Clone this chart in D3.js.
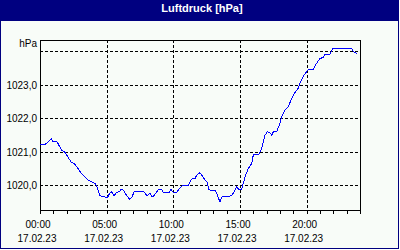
<!DOCTYPE html>
<html>
<head>
<meta charset="utf-8">
<script src="https://cdn.jsdelivr.net/npm/d3@7"></script>
<style>
  body { margin: 0; background: #fff; }
  svg { display: block; font-family: "Liberation Sans", Arial, sans-serif; }
</style>
</head>
<body>
<svg id="chart" width="400" height="250"></svg>
<script>
const hours = [0.0, 0.35, 0.6, 0.85, 0.98, 1.28, 1.6, 1.85, 2.15, 2.35, 2.6, 2.85, 3.1, 3.35, 3.6, 3.85,
  4.1, 4.3, 4.48, 4.85, 5.03, 5.23, 5.35, 5.55, 5.72, 5.98, 6.1, 6.3, 6.47, 6.73, 6.92, 7.05, 7.8, 7.97,
  8.08, 8.25, 8.38, 8.5, 8.75, 8.87, 9.13, 9.25, 9.68, 9.83, 10.0, 10.25, 10.43, 10.63, 10.75, 11.12,
  11.25, 11.38, 11.63, 11.75, 12.0, 12.13, 12.38, 12.58, 12.63, 13.13, 13.25, 13.38, 13.5, 13.67, 14.38,
  14.63, 14.75, 14.88, 15.13, 15.25, 15.38, 15.63, 15.88, 16.0, 16.38, 16.63, 16.88, 17.05, 17.25, 17.38,
  17.5, 17.75, 18.0, 18.13, 18.38, 18.63, 18.88, 19.13, 19.38, 19.5, 19.75, 20.0, 20.13, 20.5, 20.75,
  21.0, 21.25, 21.38, 21.75, 21.95, 23.38, 23.5, 23.75];
const pressure = [1021.21, 1021.21, 1021.29, 1021.40, 1021.30, 1021.30, 1021.06, 1021.00, 1020.81, 1020.69,
  1020.64, 1020.51, 1020.36, 1020.26, 1020.16, 1020.11, 1020.07, 1019.95, 1019.69, 1019.67, 1019.62,
  1019.77, 1019.82, 1019.69, 1019.79, 1019.82, 1019.89, 1019.84, 1019.72, 1019.59, 1019.67, 1019.81,
  1019.81, 1019.72, 1019.70, 1019.77, 1019.68, 1019.68, 1019.80, 1019.88, 1019.88, 1019.79, 1019.79,
  1019.88, 1019.79, 1019.79, 1019.89, 1019.98, 1020.01, 1020.01, 1020.11, 1020.19, 1020.21, 1020.31,
  1020.38, 1020.31, 1020.16, 1020.07, 1019.87, 1019.85, 1019.77, 1019.62, 1019.52, 1019.67, 1019.69,
  1019.87, 1019.97, 1019.89, 1019.89, 1020.07, 1020.26, 1020.51, 1020.66, 1020.91, 1020.91, 1021.11,
  1021.50, 1021.60, 1021.57, 1021.50, 1021.60, 1021.60, 1021.85, 1022.05, 1022.25, 1022.35, 1022.60,
  1022.77, 1022.90, 1023.04, 1023.26, 1023.39, 1023.46, 1023.46, 1023.64, 1023.78, 1023.81, 1023.90,
  1023.90, 1024.08, 1024.08, 1023.98, 1023.93];
const timeTicks = [0, 5, 10, 15, 20];
const timeLabels = ['00:00', '05:00', '10:00', '15:00', '20:00'];
const dateLabel = '17.02.23';
const yTicks = [1020, 1021, 1022, 1023, 1024];
const yLabels = ['1020,0', '1021,0', '1022,0', '1023,0', 'hPa'];
const title = 'Luftdruck [hPa]';

const svg = d3.select('#chart');
const plot = { left: 40, right: 360, top: 40, bottom: 210 };

const x = d3.scaleLinear().domain([0, 24]).range([plot.left, plot.right]);
const y = d3.scaleLinear().domain([1019.27, 1024.33]).range([plot.bottom, plot.top]);

// window frame + title bar
svg.append('rect')
  .attr('x', 0.5).attr('y', 0.5).attr('width', 398).attr('height', 248)
  .attr('fill', '#f8fcf8').attr('stroke', '#000080');
svg.append('rect')
  .attr('x', 0).attr('y', 0).attr('width', 399).attr('height', 21)
  .attr('fill', '#000080');
svg.append('text')
  .attr('x', 202).attr('y', 12)
  .attr('text-anchor', 'middle')
  .attr('fill', '#fff')
  .attr('font-size', 11).attr('font-weight', 'bold')
  .text(title);

// grid
const grid = svg.append('g')
  .attr('stroke', '#000').attr('stroke-dasharray', '3,2')
  .attr('shape-rendering', 'crispEdges');
grid.selectAll('.hg').data(yTicks).enter().append('line')
  .attr('x1', plot.left).attr('x2', plot.right)
  .attr('y1', d => Math.round(y(d)) + 0.5).attr('y2', d => Math.round(y(d)) + 0.5);
grid.selectAll('.vg').data(timeTicks.slice(1)).enter().append('line')
  .attr('y1', plot.top).attr('y2', plot.bottom)
  .attr('x1', d => Math.round(x(d)) + 0.5).attr('x2', d => Math.round(x(d)) + 0.5);

// hourly ticks
svg.append('g')
  .attr('transform', `translate(0,${plot.bottom + 0.5})`)
  .call(d3.axisBottom(x).tickValues(d3.range(0, 25)).tickSize(3).tickSizeOuter(0).tickFormat(''))
  .call(g => g.select('.domain').remove())
  .selectAll('line').attr('shape-rendering', 'crispEdges');

// plot frame
svg.append('rect')
  .attr('x', plot.left + 0.5).attr('y', plot.top + 0.5)
  .attr('width', plot.right - plot.left).attr('height', plot.bottom - plot.top)
  .attr('fill', 'none').attr('stroke', '#000')
  .attr('shape-rendering', 'crispEdges');

// line
const line = d3.line()
  .x((d, i) => x(hours[i]))
  .y(d => y(d));
svg.append('path')
  .datum(pressure)
  .attr('d', line)
  .attr('fill', 'none')
  .attr('stroke', '#0000ff')
  .attr('stroke-width', 1)
  .attr('shape-rendering', 'crispEdges');

// y labels
svg.selectAll('.ylab').data(yTicks).enter().append('text')
  .attr('x', 37)
  .attr('y', (d, i) => i === yTicks.length - 1 ? 47 : Math.round(y(d)) + 4)
  .attr('text-anchor', 'end')
  .attr('font-size', 10)
  .text((d, i) => yLabels[i]);

// x labels
const xl = svg.selectAll('.xlab').data(timeTicks).enter().append('g');
xl.append('text')
  .attr('x', d => x(d) - 2).attr('y', 228)
  .attr('text-anchor', 'middle').attr('font-size', 10)
  .text((d, i) => timeLabels[i]);
xl.append('text')
  .attr('x', d => x(d) - 3).attr('y', 242)
  .attr('text-anchor', 'middle').attr('font-size', 10)
  .text(dateLabel);
</script>
</body>
</html>
